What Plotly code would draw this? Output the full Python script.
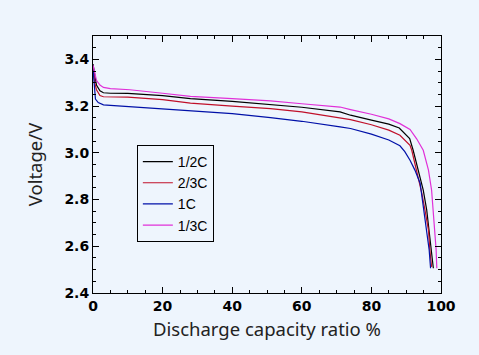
import plotly.graph_objects as go

x_half = [0, 0.5, 1, 2, 3, 5, 10, 20, 28, 40, 51, 60, 71, 74, 80, 85, 88, 91, 92, 93.5, 94.9, 95.9, 96.6, 97.3, 97.8]
v_half = [3.38, 3.33, 3.29, 3.265, 3.257, 3.255, 3.254, 3.245, 3.232, 3.22, 3.208, 3.195, 3.175, 3.161, 3.14, 3.123, 3.106, 3.061, 3.011, 2.926, 2.84, 2.755, 2.669, 2.584, 2.506]

x_two3 = [0, 0.5, 1, 2, 3, 5, 10, 20, 28, 40, 51, 60, 71, 74, 80, 85, 88.2, 91.1, 91.6, 93, 94.5, 95.4, 96.4, 96.8, 97.3]
v_two3 = [3.37, 3.30, 3.27, 3.245, 3.24, 3.239, 3.238, 3.228, 3.213, 3.20, 3.189, 3.175, 3.147, 3.142, 3.12, 3.097, 3.075, 3.032, 3.011, 2.926, 2.826, 2.755, 2.669, 2.584, 2.512]

x_1c = [0, 0.3, 0.7, 1.5, 3, 5, 10, 20, 28, 40, 51, 60, 71, 74, 80, 85, 88.2, 89.6, 91.1, 92.5, 94, 94.9, 95.9, 96.6, 97.0]
v_1c = [3.36, 3.28, 3.23, 3.215, 3.205, 3.203, 3.198, 3.19, 3.182, 3.168, 3.151, 3.135, 3.111, 3.104, 3.08, 3.055, 3.03, 3.005, 2.968, 2.926, 2.87, 2.77, 2.669, 2.584, 2.506]

x_third = [0, 0.5, 1, 2, 3, 5, 10.6, 20, 28, 40, 51, 60, 71, 74, 80, 85, 88.2, 91.1, 93, 94.9, 96.4, 97.3, 97.8, 98.3, 98.6, 98.8]
v_third = [3.375, 3.34, 3.31, 3.29, 3.28, 3.275, 3.27, 3.255, 3.242, 3.232, 3.222, 3.21, 3.196, 3.185, 3.165, 3.145, 3.125, 3.10, 3.06, 3.011, 2.926, 2.84, 2.755, 2.669, 2.584, 2.506]

series = [
    ("1/2C", x_half, v_half, "#000000"),
    ("2/3C", x_two3, v_two3, "#C0102A"),
    ("1C", x_1c, v_1c, "#0010A8"),
    ("1/3C", x_third, v_third, "#E030D8"),
]

bg = "#EEF5FD"
fig = go.Figure()
for name, xs, ys, c in series:
    fig.add_trace(go.Scatter(x=xs, y=ys, mode="lines", name=name,
                             line=dict(color=c, width=1.2)))

axis_common = dict(
    showline=True, linecolor="black", linewidth=1, mirror="ticks",
    ticks="inside", ticklen=6, tickcolor="black", showgrid=False, zeroline=False,
    tickfont=dict(family="DejaVu Sans", size=14, color="black", weight="bold"),
    minor=dict(ticks="inside", ticklen=3, tickcolor="black", showgrid=False),
)

fig.update_layout(
    width=479, height=355,
    paper_bgcolor=bg, plot_bgcolor=bg,
    margin=dict(l=93, r=38, t=36, b=62),
    showlegend=True,
    legend=dict(x=0.126, y=0.576, xanchor="left", yanchor="top",
                bgcolor=bg, bordercolor="black", borderwidth=1,
                font=dict(family="Liberation Sans, Arial", size=14, color="black"),
                itemwidth=30, tracegroupgap=0),
    xaxis=dict(range=[0, 100], dtick=20,
               title=dict(text="Discharge capacity ratio %", standoff=10,
                          font=dict(family="Noto Sans", size=18.5, color="#222222")),
               **axis_common),
    yaxis=dict(range=[2.4, 3.5], dtick=0.2, tick0=2.4, tickformat=".1f",
               title=dict(text="Voltage/V", standoff=16,
                          font=dict(family="Noto Sans", size=18.5, color="#222222")),
               **axis_common),
)

fig.write_html("out.html", config={"displayModeBar": False},
               post_script="document.body.style.margin='0';document.body.style.background='%s';" % bg)
